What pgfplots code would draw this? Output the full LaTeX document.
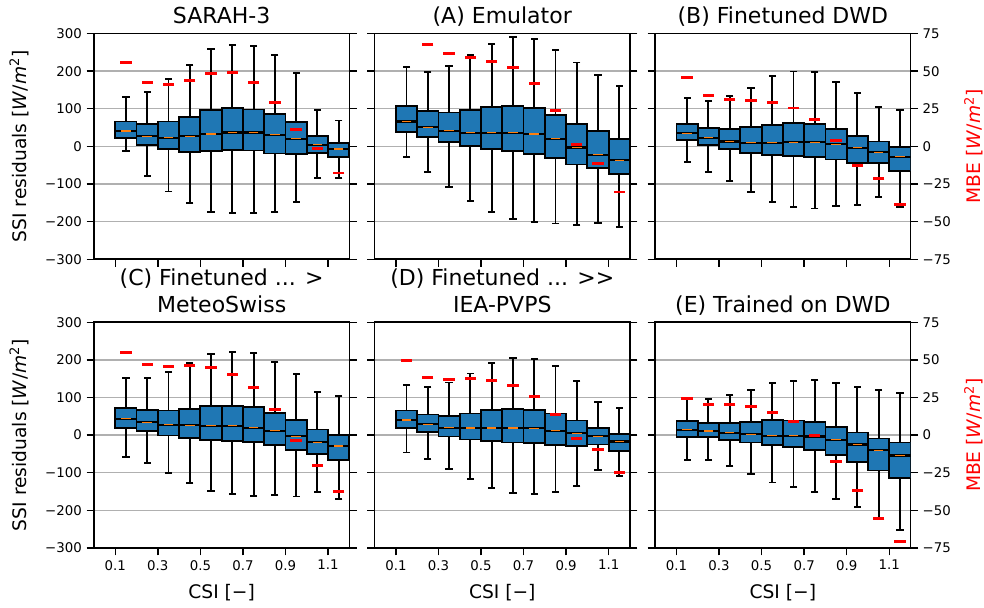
\documentclass[border=0pt]{standalone}
\usepackage{pgfplots}
\pgfplotsset{compat=1.18}
\usepackage{fontspec}
\setmainfont{DejaVu Sans}
\definecolor{tabblue}{HTML}{1F77B4}
\definecolor{mplorange}{HTML}{FF7F0E}
\definecolor{gridgray}{HTML}{B0B0B0}
\pgfplotsset{
  panel/.style={scale only axis, width=191.5pt, height=169.3pt, anchor=south west,
    xmin=0, xmax=1.2, ymin=-300, ymax=300,
    xtick={0.1,0.3,0.5,0.7,0.9,1.1}, xticklabels={},
    ytick={-300,-200,-100,0,100,200,300}, yticklabels={},
    tick align=outside, xtick pos=left, ytick pos=both,
    major tick length=5.6pt, tick style={black, line width=1pt},
    axis line style={line width=1.2pt},
    ymajorgrids, grid style={gridgray, line width=1pt},
    ticklabel style={font=\fontsize{10}{12}\selectfont},
    title style={font=\fontsize{16.5}{20.25}\selectfont, align=center, anchor=base, yshift=1.6pt},
  },
  mbe/.style={scale only axis, width=191.5pt, height=169.3pt, anchor=south west,
    xmin=0, xmax=1.2, ymin=-75, ymax=75, hide axis},
  leftcol/.style={yticklabels={−300,−200,−100,0,100,200,300},
    ylabel={SSI residuals [\textit{W}/\textit{m}\textsuperscript{2}]},
    ylabel style={font=\fontsize{14}{16}\selectfont, at={(axis description cs:-0.266,0.5)}, anchor=base}},
  rightcol/.style={yticklabel pos=right, yticklabels={−75,−50,−25,0,25,50,75},
    ylabel={MBE [\textit{W}/\textit{m}\textsuperscript{2}]},
    ylabel style={font=\fontsize{14}{16}\selectfont, red, at={(axis description cs:1.275,0.5)}, anchor=base}},
  bottomrow/.style={xticklabels={0.1,0.3,0.5,0.7,0.9,1.1},
    xlabel={CSI [−]}, xlabel style={font=\fontsize{14}{16}\selectfont, at={(axis description cs:0.5,-0.2215)}, anchor=base}},
  whisk/.style={black, line width=1.4pt, mark=-, mark size=2.7pt, mark options={black, line width=1.4pt}},
  bxs/.style={draw=black, fill=tabblue, line width=1.4pt, mark=none},
  medb/.style={black, line width=1.6pt, mark=none},
  medo/.style={only marks, mark=-, mark size=3.6pt, mplorange, mark options={mplorange, line width=0.9pt}},
  dash/.style={only marks, mark=-, mark size=4.25pt, red, mark options={red, line width=2.2pt}},
}
% #1 left edge, #2 centre, #3 right edge, #4 lower whisker, #5 Q1, #6 median, #7 Q3, #8 upper whisker
\newcommand{\bx}[8]{%
\addplot[whisk] coordinates {(#2,#4) (#2,#8)};
\addplot[bxs] coordinates {(#1,#5) (#3,#5) (#3,#7) (#1,#7)} --cycle;
\addplot[medb] coordinates {(#1,#6) (#3,#6)};
\addplot[medo] coordinates {(#2,#6)};}
\begin{document}
\begin{tikzpicture}
\useasboundingbox (0,0) rectangle (738pt,455.25pt);
% ---------- SARAH-3
\begin{axis}[panel, leftcol, at={(70.5pt,260.8pt)}, title={SARAH-3}]
\bx{0.1}{0.15}{0.2}{-12}{22}{41}{66}{132}
\bx{0.2}{0.25}{0.3}{-78}{4}{27}{59}{145}
\bx{0.3}{0.35}{0.4}{-120}{-7}{23}{66}{179}
\bx{0.4}{0.45}{0.5}{-151}{-15}{27}{77}{216}
\bx{0.5}{0.55}{0.6}{-175}{-12}{33}{97}{259}
\bx{0.6}{0.65}{0.7}{-178}{-9}{37}{101}{270}
\bx{0.7}{0.75}{0.8}{-177}{-11}{37}{98}{266}
\bx{0.8}{0.85}{0.9}{-174}{-19}{31}{86}{244}
\bx{0.9}{0.95}{1.0}{-148}{-21}{20}{65}{194}
\bx{1.0}{1.05}{1.1}{-85}{-17}{4}{28}{97}
\bx{1.1}{1.15}{1.2}{-85}{-28}{-7}{10}{69}
\end{axis}
\begin{axis}[mbe, at={(70.5pt,260.8pt)}]
\addplot[dash] coordinates {(0.15,56) (0.25,42.5) (0.35,41.4) (0.45,44) (0.55,48.7) (0.65,49.4) (0.75,42.7) (0.85,29.2) (0.95,11) (1.05,-1.1) (1.15,-17.7)};
\end{axis}
% ---------- (A) Emulator
\begin{axis}[panel, at={(280.95pt,260.8pt)}, title={(A) Emulator}]
\bx{0.1}{0.15}{0.2}{-28}{39}{66}{107}{210}
\bx{0.2}{0.25}{0.3}{-67}{26}{51}{94}{197}
\bx{0.3}{0.35}{0.4}{-109}{12}{42}{90}{213}
\bx{0.4}{0.45}{0.5}{-144}{1}{36}{97}{242}
\bx{0.5}{0.55}{0.6}{-175}{-6}{36}{104}{272}
\bx{0.6}{0.65}{0.7}{-194}{-13}{36}{108}{291}
\bx{0.7}{0.75}{0.8}{-202}{-20}{33}{103}{286}
\bx{0.8}{0.85}{0.9}{-205}{-30}{20}{83}{257}
\bx{0.9}{0.95}{1.0}{-210}{-48}{-3}{60}{223}
\bx{1.0}{1.05}{1.1}{-204}{-57}{-22}{42}{189}
\bx{1.1}{1.15}{1.2}{-215}{-74}{-37}{20}{160}
\end{axis}
\begin{axis}[mbe, at={(280.95pt,260.8pt)}]
\addplot[dash] coordinates {(0.25,67.5) (0.35,61.8) (0.45,59.3) (0.55,56.7) (0.65,52.5) (0.75,42) (0.85,23.7) (0.95,1.5) (1.05,-11.3) (1.15,-30.3)};
\end{axis}
% ---------- (B) Finetuned DWD
\begin{axis}[panel, rightcol, at={(491.4pt,260.8pt)}, title={(B) Finetuned DWD}]
\bx{0.1}{0.15}{0.2}{-42.5}{16}{35}{60}{129}
\bx{0.2}{0.25}{0.3}{-67}{3}{23}{50}{121}
\bx{0.3}{0.35}{0.4}{-92}{-8}{13}{46}{133}
\bx{0.4}{0.45}{0.5}{-121}{-17}{10}{51}{156}
\bx{0.5}{0.55}{0.6}{-148}{-22}{10}{58}{186}
\bx{0.6}{0.65}{0.7}{-161}{-25}{11}{63}{199}
\bx{0.7}{0.75}{0.8}{-165}{-29}{11}{59}{197}
\bx{0.8}{0.85}{0.9}{-159}{-35}{6}{46}{171}
\bx{0.9}{0.95}{1.0}{-155}{-45}{-3.5}{28}{141}
\bx{1.0}{1.05}{1.1}{-135}{-45}{-16}{13}{104}
\bx{1.1}{1.15}{1.2}{-161}{-65}{-27.5}{-2}{96}
\end{axis}
\begin{axis}[mbe, at={(491.4pt,260.8pt)}]
\addplot[dash] coordinates {(0.15,46) (0.25,34.1) (0.35,31.2) (0.45,30.8) (0.55,29) (0.65,25.5) (0.75,17.7) (0.85,3.8) (0.95,-12.8) (1.05,-21.3) (1.15,-38.5)};
\end{axis}
% ---------- (C)
\begin{axis}[panel, leftcol, bottomrow, at={(70.5pt,44.25pt)}, title={(C) Finetuned ... >\\MeteoSwiss}]
\bx{0.1}{0.15}{0.2}{-57}{19.5}{44}{72}{152}
\bx{0.2}{0.25}{0.3}{-73}{11}{34.5}{66}{151}
\bx{0.3}{0.35}{0.4}{-101}{-1}{28}{65.5}{168}
\bx{0.4}{0.45}{0.5}{-127}{-8}{26}{70}{192}
\bx{0.5}{0.55}{0.6}{-149}{-12}{25}{77}{216}
\bx{0.6}{0.65}{0.7}{-157}{-15}{25}{78}{221}
\bx{0.7}{0.75}{0.8}{-161}{-19}{20}{74}{219}
\bx{0.8}{0.85}{0.9}{-159}{-26}{12}{59}{194}
\bx{0.9}{0.95}{1.0}{-163}{-40}{-3}{40}{163}
\bx{1.0}{1.05}{1.1}{-152}{-51}{-19}{15}{115}
\bx{1.1}{1.15}{1.2}{-170}{-67}{-29}{0}{103}
\end{axis}
\begin{axis}[mbe, at={(70.5pt,44.25pt)}]
\addplot[dash] coordinates {(0.15,54.6) (0.25,46.7) (0.35,45.4) (0.45,46.2) (0.55,44.9) (0.65,40.5) (0.75,31.9) (0.85,16.8) (0.95,-3.3) (1.05,-19.9) (1.15,-37.4)};
\end{axis}
% ---------- (D)
\begin{axis}[panel, bottomrow, at={(280.95pt,44.25pt)}, title={(D) Finetuned ... >\kern0pt>\\IEA-PVPS}]
\bx{0.1}{0.15}{0.2}{-46}{19}{40}{65.5}{134}
\bx{0.2}{0.25}{0.3}{-64}{8}{29}{55}{127}
\bx{0.3}{0.35}{0.4}{-90}{-3.5}{20}{51}{140}
\bx{0.4}{0.45}{0.5}{-116}{-11.5}{19}{57.5}{164}
\bx{0.5}{0.55}{0.6}{-140}{-16}{19}{66}{192}
\bx{0.6}{0.65}{0.7}{-153}{-19.5}{19}{70}{205}
\bx{0.7}{0.75}{0.8}{-157}{-22}{18}{67}{203}
\bx{0.8}{0.85}{0.9}{-152}{-26}{12}{57.5}{184}
\bx{0.9}{0.95}{1.0}{-134.5}{-30}{5}{39}{144}
\bx{1.0}{1.05}{1.1}{-93}{-25}{-3}{19}{87}
\bx{1.1}{1.15}{1.2}{-109}{-42}{-17}{4}{73}
\end{axis}
\begin{axis}[mbe, at={(280.95pt,44.25pt)}]
\addplot[dash] coordinates {(0.15,49.3) (0.25,38.5) (0.35,36.7) (0.45,37.4) (0.55,36.5) (0.65,33.2) (0.75,25.9) (0.85,13.5) (0.95,-2) (1.05,-9.3) (1.15,-24.6)};
\end{axis}
% ---------- (E)
\begin{axis}[panel, rightcol, bottomrow, at={(491.4pt,44.25pt)}, title={(E) Trained on DWD}]
\bx{0.1}{0.15}{0.2}{-65}{-4}{14}{37}{98}
\bx{0.2}{0.25}{0.3}{-67}{-6}{11}{33}{96}
\bx{0.3}{0.35}{0.4}{-83}{-12}{6}{32}{106}
\bx{0.4}{0.45}{0.5}{-104}{-19.5}{2}{35}{120}
\bx{0.5}{0.55}{0.6}{-126}{-26}{-2}{40}{139}
\bx{0.6}{0.65}{0.7}{-138}{-31}{-2}{39}{145}
\bx{0.7}{0.75}{0.8}{-150}{-39}{-3.5}{34}{146}
\bx{0.8}{0.85}{0.9}{-169}{-53}{-12}{22}{139}
\bx{0.9}{0.95}{1.0}{-190}{-71}{-25}{7}{128}
\bx{1.0}{1.05}{1.1}{-222}{-94}{-40}{-9}{120}
\bx{1.1}{1.15}{1.2}{-252}{-113}{-54}{-19.5}{111}
\end{axis}
\begin{axis}[mbe, at={(491.4pt,44.25pt)}]
\addplot[dash] coordinates {(0.15,24.6) (0.25,20.4) (0.35,20.4) (0.45,19.2) (0.55,15.3) (0.65,8.8) (0.75,-0.4) (0.85,-17.5) (0.95,-36.5) (1.05,-55.5) (1.15,-70.6)};
\end{axis}
\end{tikzpicture}
\end{document}
